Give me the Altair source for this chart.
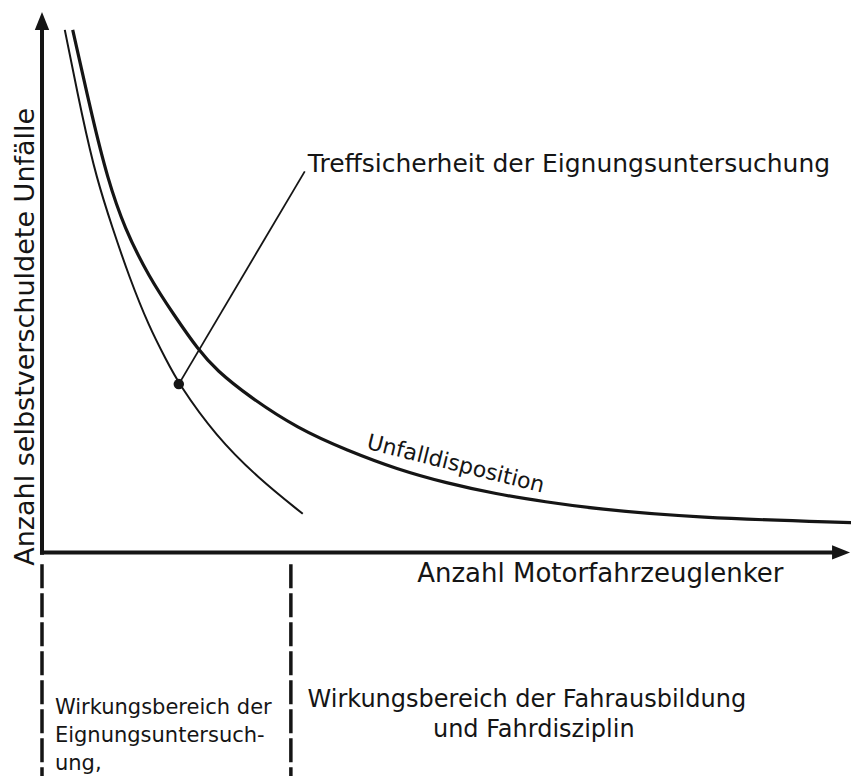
import altair as alt
import pandas as pd

# ---- data (abstract units: x 0..100 along "Anzahl Motorfahrzeuglenker", y 0..100 along "Unfälle")
outer_x = [3.80, 6.26, 8.10, 10.18, 13.25, 16.32, 19.39, 21.60, 25.52, 31.66, 37.79,
           43.93, 50.06, 56.20, 62.33, 68.47, 80.74, 100.4]
outer_y = [96.70, 80.22, 69.23, 60.07, 50.92, 43.96, 37.36, 33.70, 28.94, 22.89, 18.86,
           15.38, 12.82, 10.81, 9.34, 8.06, 6.41, 5.49]

inner_x = [2.82, 5.03, 6.75, 8.71, 10.80, 13.25, 15.34, 16.93, 21.47, 26.75, 32.27]
inner_y = [96.70, 80.22, 69.23, 60.07, 50.92, 41.76, 35.71, 31.14, 21.61, 13.74, 7.14]

marker_x = [16.93]
marker_y = [31.14]

pointer_x = [16.93, 32.52]
pointer_y = [31.14, 70.51]

zone_x = [0.0, 30.80]          # boundaries of the two "Wirkungsbereich" zones
zone_top = -2.2
zone_bottom = -41.4

y_axis_title = "Anzahl selbstverschuldete Unfälle"
x_axis_title = "Anzahl Motorfahrzeuglenker"
pointer_label = "Treffsicherheit der Eignungsuntersuchung"
curve_label = "Unfalldisposition"
left_zone_lines = ["Wirkungsbereich der", "Eignungsuntersuch-", "ung,"]
right_zone_lines = ["Wirkungsbereich der Fahrausbildung", "und Fahrdisziplin"]

INK = "#151515"
FONT = "DejaVu Sans"

xs = alt.Scale(domain=[-4.208, 100.12], nice=False, zero=False)
ys = alt.Scale(domain=[-41.38, 100.74], nice=False, zero=False)


def X(f):
    return alt.X(f, type="quantitative", scale=xs, axis=None)


def Y(f):
    return alt.Y(f, type="quantitative", scale=ys, axis=None)


outer = alt.Chart(pd.DataFrame({"x": outer_x, "y": outer_y})).mark_line(
    interpolate="basis", color=INK, strokeWidth=3.2
).encode(x=X("x"), y=Y("y"))

inner = alt.Chart(pd.DataFrame({"x": inner_x, "y": inner_y})).mark_line(
    interpolate="basis", color=INK, strokeWidth=2.0
).encode(x=X("x"), y=Y("y"))

pointer = alt.Chart(pd.DataFrame({"x": pointer_x, "y": pointer_y})).mark_line(
    color=INK, strokeWidth=1.8
).encode(x=X("x"), y=Y("y"))

marker = alt.Chart(pd.DataFrame({"x": marker_x, "y": marker_y})).mark_point(
    filled=True, color=INK, size=110, opacity=1, shape="circle"
).encode(x=X("x"), y=Y("y"))

# axes drawn as rules with arrowheads
y_axis = alt.Chart(pd.DataFrame({"x": [0.0], "y": [-0.45], "y2": [98.4]})).mark_rule(
    color=INK, strokeWidth=4, strokeCap="butt"
).encode(x=X("x"), y=Y("y"), y2=alt.Y2("y2"))

x_axis = alt.Chart(pd.DataFrame({"y": [0.0], "x": [-0.25], "x2": [98.9]})).mark_rule(
    color=INK, strokeWidth=4, strokeCap="butt"
).encode(x=X("x"), x2=alt.X2("x2"), y=Y("y"))

arrow_up = alt.Chart(pd.DataFrame({"x": [0.0], "y": [98.33]})).mark_point(
    filled=True, color=INK, opacity=1, size=324, shape="M0,-1L-0.8,1L0.8,1Z"
).encode(x=X("x"), y=Y("y"))

arrow_right = alt.Chart(pd.DataFrame({"x": [98.89], "y": [0.0]})).mark_point(
    filled=True, color=INK, opacity=1, size=324, shape="M1,0L-1,-0.8L-1,0.8Z"
).encode(x=X("x"), y=Y("y"))

zones = alt.Chart(pd.DataFrame({"x": zone_x, "y": [zone_top] * 2, "y2": [zone_bottom] * 2})).mark_rule(
    color=INK, strokeWidth=3.5, strokeDash=[24, 5], strokeCap="butt"
).encode(x=X("x"), y=Y("y"), y2=alt.Y2("y2"))

# texts
t_yaxis = alt.Chart(pd.DataFrame({"x": [-1.0], "y": [39.9], "t": [y_axis_title]})).mark_text(
    angle=270, align="center", baseline="alphabetic", fontSize=27, font=FONT, color=INK
).encode(x=X("x"), y=Y("y"), text="t:N")

t_xaxis = alt.Chart(pd.DataFrame({"x": [69.1], "y": [-5.5], "t": [x_axis_title]})).mark_text(
    align="center", baseline="alphabetic", fontSize=26, font=FONT, color=INK
).encode(x=X("x"), y=Y("y"), text="t:N")

t_pointer = alt.Chart(pd.DataFrame({"x": [32.9], "y": [70.3], "t": [pointer_label]})).mark_text(
    align="left", baseline="alphabetic", fontSize=25, font=FONT, color=INK
).encode(x=X("x"), y=Y("y"), text="t:N")

t_curve = alt.Chart(pd.DataFrame({"x": [51.2], "y": [16.4], "t": [curve_label]})).mark_text(
    angle=14, align="center", baseline="middle", fontSize=22, font=FONT, color=INK
).encode(x=X("x"), y=Y("y"), text="t:N")

t_left = alt.Chart(pd.DataFrame({
    "x": [1.6] * 3, "y": [-29.85, -35.16, -40.29], "t": left_zone_lines
})).mark_text(
    align="left", baseline="alphabetic", fontSize=21, font=FONT, color=INK
).encode(x=X("x"), y=Y("y"), text="t:N")

t_right = alt.Chart(pd.DataFrame({
    "x": [60.0, 60.86], "y": [-28.6, -34.1], "t": right_zone_lines
})).mark_text(
    align="center", baseline="alphabetic", fontSize=24, font=FONT, color=INK
).encode(x=X("x"), y=Y("y"), text="t:N")

chart = alt.layer(
    zones, y_axis, x_axis, arrow_up, arrow_right,
    outer, inner, pointer, marker,
    t_yaxis, t_xaxis, t_pointer, t_curve, t_left, t_right
).properties(
    width=843, height=768, padding=0, autosize="none", background="white"
).configure_view(strokeWidth=0)

chart.save("out.html", embed_options={"renderer": "svg", "actions": False})
